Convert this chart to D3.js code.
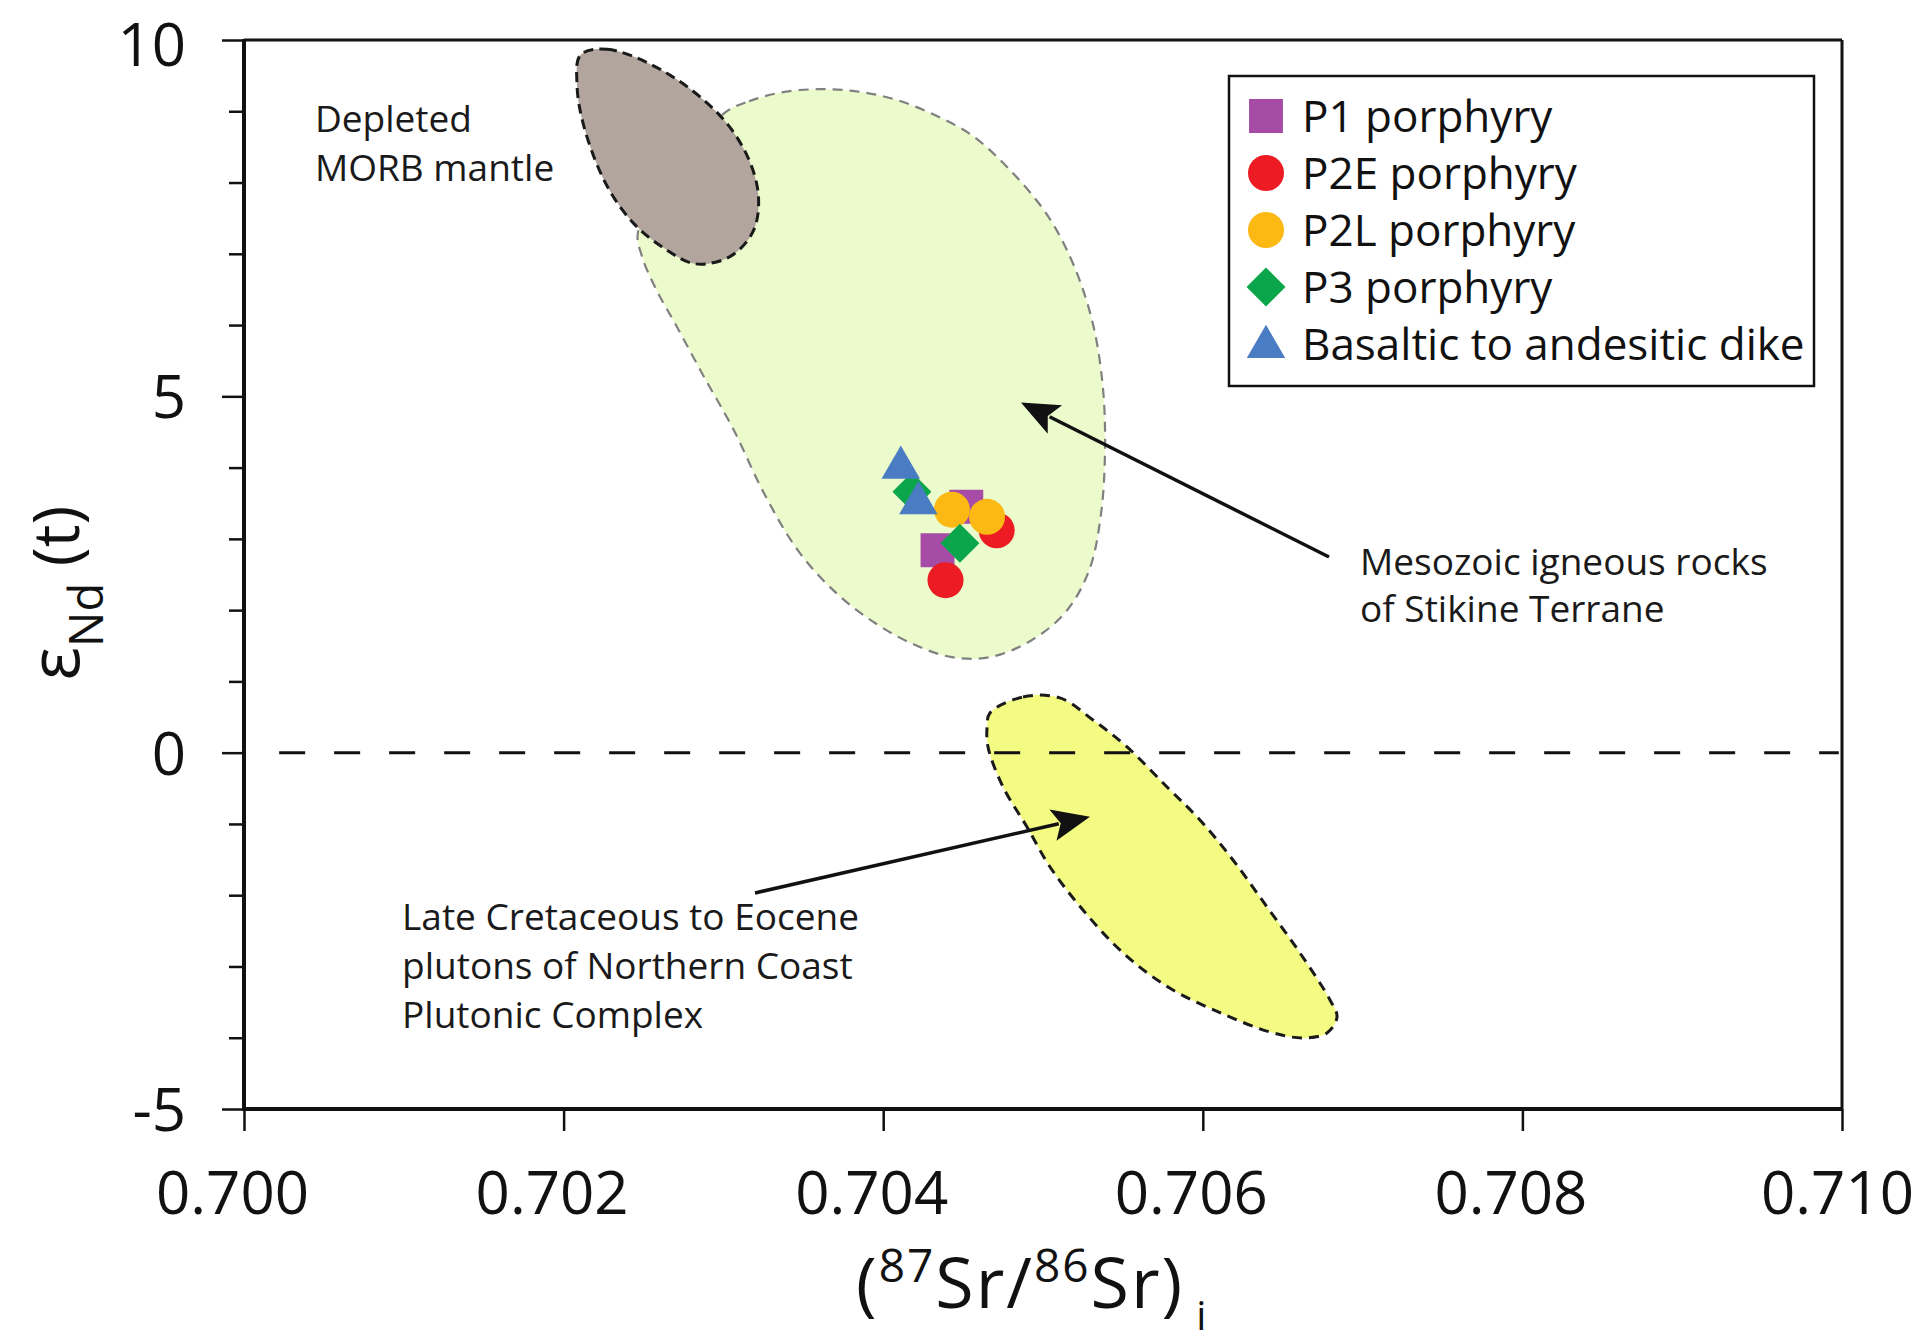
<!DOCTYPE html>
<html>
<head>
<meta charset="utf-8">
<script src="https://cdn.jsdelivr.net/npm/d3@7"></script>
<style>
  html, body { margin: 0; background: #fff; }
  svg { display: block; font-family: "Open Sans", "Noto Sans", sans-serif; }
</style>
</head>
<body>
<svg id="chart" width="1921" height="1343"></svg>
<script>
// ---- axes ----
const X_TICKS = [0.700, 0.702, 0.704, 0.706, 0.708, 0.710];
const Y_MAJOR = [10, 5, 0, -5];
const Y_MINOR = [9, 8, 7, 6, 4, 3, 2, 1, -1, -2, -3, -4];

// ---- samples: [87Sr/86Sr(i), eNd(t)] ----
const SERIES = ["P1 porphyry", "P2E porphyry", "P2L porphyry", "P3 porphyry",
                "Basaltic to andesitic dike"];
const P1   = [[0.70452, 3.45], [0.70434, 2.84]];
const P2E  = [[0.70471, 3.12], [0.70439, 2.42]];
const P2L  = [[0.70443, 3.41], [0.70465, 3.31]];
const P3   = [[0.70418, 3.66], [0.70448, 2.94]];
const DIKE = [[0.70411, 4.00], [0.70422, 3.50]];

// ---- reference fields (outlines traced in data units) ----
const MORB = [[0.702106, 9.79], [0.702272, 9.87], [0.702635, 9.55], [0.702991, 8.91],
  [0.703160, 8.32], [0.703220, 7.78], [0.703185, 7.31], [0.703041, 6.96],
  [0.702822, 6.86], [0.702635, 7.07], [0.702441, 7.42], [0.702272, 7.95],
  [0.702128, 8.78], [0.702084, 9.37]];
const STIKINE = [[0.703016, 8.99], [0.703160, 9.14], [0.703352, 9.26], [0.703592, 9.31],
  [0.703830, 9.28], [0.704068, 9.17], [0.704310, 8.96], [0.704550, 8.67],
  [0.704787, 8.19], [0.705028, 7.54], [0.705194, 6.83], [0.705313, 6.01],
  [0.705375, 5.12], [0.705388, 4.23], [0.705363, 3.35], [0.705292, 2.58],
  [0.705148, 1.99], [0.704931, 1.58], [0.704668, 1.34], [0.704431, 1.34],
  [0.704190, 1.52], [0.703949, 1.82], [0.703711, 2.23], [0.703472, 2.82],
  [0.703254, 3.64], [0.703064, 4.53], [0.702872, 5.30], [0.702703, 6.00],
  [0.702584, 6.48], [0.702491, 6.96], [0.702466, 7.31], [0.702703, 8.19]];
const NCPC = [[0.704668, 0.557], [0.704875, 0.782], [0.705106, 0.768], [0.705313, 0.459],
  [0.705526, 0.080], [0.705776, -0.481], [0.705982, -0.944], [0.706189, -1.506],
  [0.706402, -2.165], [0.706608, -2.810], [0.706796, -3.470], [0.706840, -3.709],
  [0.706777, -3.933], [0.706627, -4.003], [0.706421, -3.920], [0.706100, -3.640],
  [0.705790, -3.300], [0.705501, -2.810], [0.705250, -2.207], [0.705044, -1.604],
  [0.704900, -1.043], [0.704750, -0.481], [0.704656, 0.080], [0.704650, 0.361]];

// ---- labels & arrows (data units) ----
const MORB_LABEL = ["Depleted", "MORB mantle"];
const STIKINE_LABEL = ["Mesozoic igneous rocks", "of Stikine Terrane"];
const NCPC_LABEL = ["Late Cretaceous to Eocene", "plutons of Northern Coast", "Plutonic Complex"];
const ARROW_STIKINE = [[0.706790, 2.746], [0.704862, 4.914]];
const ARROW_NCPC = [[0.703198, -1.968], [0.705294, -0.898]];

(function () {
  const COLORS = ["#a64ca6", "#ed1c24", "#fdb913", "#0ba64b", "#4a7cc3"];
  const SHAPES = ["square", "circle", "circle", "diamond", "triangle"];
  const L = 244, R = 1842, T = 40, B = 1109;
  const x = d3.scaleLinear([0.700, 0.710], [L, R]);
  const y = d3.scaleLinear([-5, 10], [B, T]);
  const svg = d3.select("#chart");

  // fields
  const area = d3.line().x(p => x(p[0])).y(p => y(p[1])).curve(d3.curveCatmullRomClosed.alpha(0.5));
  svg.append("path").attr("d", area(STIKINE)).attr("fill", "#ebfbcb")
    .attr("stroke", "#808080").attr("stroke-width", 2.2).attr("stroke-dasharray", "10,7");
  svg.append("path").attr("d", area(MORB)).attr("fill", "#b1a59d")
    .attr("stroke", "#1a1a1a").attr("stroke-width", 3).attr("stroke-dasharray", "10,6");
  svg.append("path").attr("d", area(NCPC)).attr("fill", "#f3fb82")
    .attr("stroke", "#1a1a1a").attr("stroke-width", 3).attr("stroke-dasharray", "10,7");

  // eNd = 0 reference line
  svg.append("line").attr("x1", x(0.70022)).attr("x2", x(0.70998))
    .attr("y1", y(0)).attr("y2", y(0))
    .attr("stroke", "#111").attr("stroke-width", 3).attr("stroke-dasharray", "26,29");

  // axes
  const ya = svg.append("g").attr("transform", `translate(${L},0)`)
    .call(d3.axisLeft(y).tickValues(Y_MAJOR).tickSize(22).tickPadding(36)
      .tickFormat(d => String(d)));
  svg.append("g").attr("transform", `translate(${L},0)`)
    .call(d3.axisLeft(y).tickValues(Y_MINOR).tickSize(15).tickFormat(""))
    .call(g => g.select(".domain").remove())
    .selectAll("line").attr("stroke", "#111").attr("stroke-width", 2.5);
  const xa = svg.append("g").attr("transform", `translate(0,${B})`)
    .call(d3.axisBottom(x).tickValues(X_TICKS).tickSize(22).tickPadding(40)
      .tickFormat(d3.format(".3f")));
  [ya, xa].forEach(g => {
    g.select(".domain").remove();
    g.selectAll("line").attr("stroke", "#111").attr("stroke-width", 2.5);
    g.selectAll("text").attr("font-size", 60).attr("fill", "#111")
      .attr("font-family", "'Open Sans', sans-serif");
  });
  ya.selectAll("text").attr("dy", d => d === 10 ? "0.42em" : "0.36em");
  xa.selectAll("text").attr("dx", (d, i) => i === X_TICKS.length - 1 ? -5 : -12);

  // frame
  const frame = [[L, T, R, T, 3], [R, T, R, B, 3], [L, T - 1, L, B + 2, 4], [L - 1, B, R + 1, B, 4]];
  svg.append("g").selectAll("line").data(frame).join("line")
    .attr("x1", d => d[0]).attr("y1", d => d[1]).attr("x2", d => d[2]).attr("y2", d => d[3])
    .attr("stroke", "#111").attr("stroke-width", d => d[4]);

  // symbols
  const sym = (shape) => {
    if (shape === "square") return d3.symbol(d3.symbolSquare, 1150)();
    if (shape === "circle") return d3.symbol(d3.symbolCircle, 1020)();
    if (shape === "diamond") return d3.symbol(d3.symbolSquare, 760)();
    return d3.symbol(d3.symbolTriangle, 640)();
  };
  const rot = (shape) => shape === "diamond" ? " rotate(45)" : "";
  const groups = [P1, P2E, P2L, P3, DIKE];
  groups.forEach((pts, i) => {
    svg.append("g").selectAll("path").data(pts).join("path")
      .attr("d", sym(SHAPES[i])).attr("fill", COLORS[i])
      .attr("transform", d => `translate(${x(d[0])},${y(d[1])})${rot(SHAPES[i])}`);
  });

  // arrows
  function arrow(a) {
    const x0 = x(a[0][0]), y0 = y(a[0][1]), x1 = x(a[1][0]), y1 = y(a[1][1]);
    const ang = Math.atan2(y1 - y0, x1 - x0), len = 38, half = 16;
    const bx = x1 - len * Math.cos(ang), by = y1 - len * Math.sin(ang);
    svg.append("line").attr("x1", x0).attr("y1", y0).attr("x2", bx + 6 * Math.cos(ang))
      .attr("y2", by + 6 * Math.sin(ang)).attr("stroke", "#111").attr("stroke-width", 3.5);
    const nx = -Math.sin(ang), ny = Math.cos(ang);
    svg.append("path").attr("fill", "#111")
      .attr("d", `M${x1},${y1}L${bx + half * nx},${by + half * ny}L${bx + 8 * Math.cos(ang)},${by + 8 * Math.sin(ang)}L${bx - half * nx},${by - half * ny}Z`);
  }
  arrow(ARROW_STIKINE);
  arrow(ARROW_NCPC);

  // field labels
  function label(lines, xv, yv, lh) {
    svg.append("text").attr("x", x(xv)).attr("y", y(yv)).attr("font-size", 37).attr("fill", "#1a1a1a")
      .selectAll("tspan").data(lines).join("tspan")
      .attr("x", x(xv)).attr("dy", (d, i) => i ? lh : 0).text(d => d);
  }
  label(MORB_LABEL, 0.700444, 8.713, 49);
  label(STIKINE_LABEL, 0.706984, 2.493, 47);
  label(NCPC_LABEL, 0.700989, -2.488, 49);

  // legend
  const lg = svg.append("g").attr("transform", "translate(1229,76)");
  lg.append("rect").attr("width", 585).attr("height", 310).attr("fill", "#fff")
    .attr("stroke", "#111").attr("stroke-width", 2.5);
  SERIES.forEach((s, i) => {
    const cy = 40 + i * 57;
    lg.append("path").attr("d", sym(SHAPES[i])).attr("fill", COLORS[i])
      .attr("transform", `translate(37,${cy + (SHAPES[i] === "triangle" ? 3 : 0)})${rot(SHAPES[i])}`);
    lg.append("text").attr("x", 73).attr("y", cy + 16).attr("font-size", 44)
      .attr("fill", "#111").text(s);
  });

  // axis titles
  const yt = svg.append("text").attr("transform", "translate(79,593) rotate(-90)")
    .attr("text-anchor", "middle").attr("font-size", 64).attr("fill", "#111");
  yt.append("tspan").attr("font-size", 70).text("ε");
  yt.append("tspan").attr("font-size", 47).attr("dy", 24).text("Nd");
  yt.append("tspan").attr("dy", -24).text(" (t)");

  const xt = svg.append("text").attr("x", 856).attr("y", 1308).attr("font-size", 70)
    .attr("fill", "#111").attr("letter-spacing", 2);
  xt.append("tspan").text("(");
  xt.append("tspan").attr("font-size", 46).attr("dy", -26).text("87");
  xt.append("tspan").attr("dy", 26).text("Sr/");
  xt.append("tspan").attr("font-size", 46).attr("dy", -26).text("86");
  xt.append("tspan").attr("dy", 26).text("Sr)");
  xt.append("tspan").attr("font-size", 40).attr("dx", 12).attr("dy", 22).text("i");
})();
</script>
</body>
</html>
